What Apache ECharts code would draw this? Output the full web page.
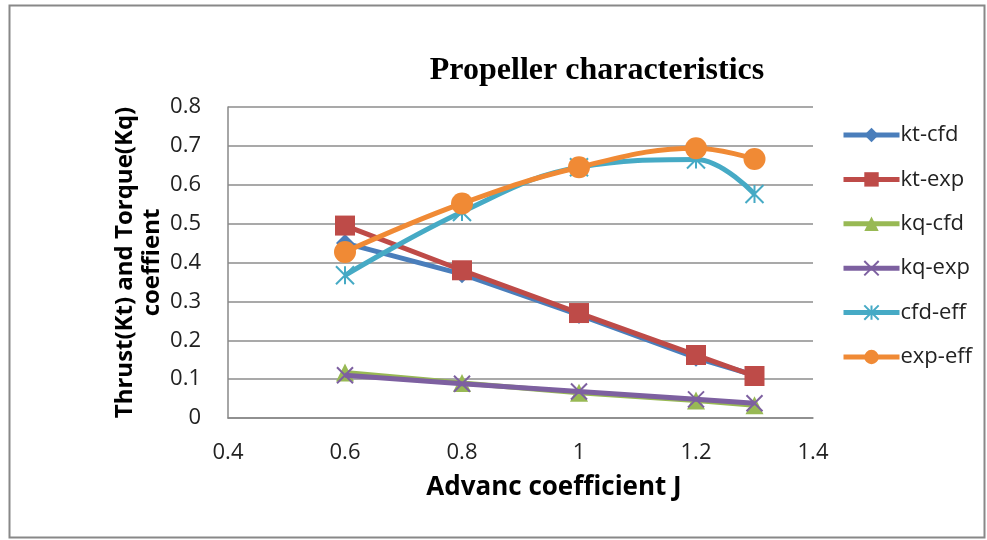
<!DOCTYPE html>
<html><head><meta charset="utf-8">
<script src="https://cdn.jsdelivr.net/npm/echarts@6/dist/echarts.min.js"></script>
<style>html,body{margin:0;padding:0;background:#fff}#c{width:987px;height:540px}</style>
</head><body><div id="c"></div>
<script>
var J = [0.6, 0.8, 1.0, 1.2, 1.3];
var ktCfd = [0.45, 0.37, 0.265, 0.155, 0.11];
var ktExp = [0.495, 0.38, 0.27, 0.162, 0.108];
var kqCfd = [0.117, 0.09, 0.065, 0.045, 0.033];
var kqExp = [0.11, 0.088, 0.068, 0.048, 0.038];
var cfdEff = [0.367, 0.53, 0.645, 0.665, 0.576];
var expEff = [0.427, 0.552, 0.645, 0.694, 0.666];
var names = ['kt-cfd','kt-exp','kq-cfd','kq-exp','cfd-eff','exp-eff'];
var xTicks = [0.4, 0.6, 0.8, 1.0, 1.2, 1.4];
var yTicks = [0, 0.1, 0.2, 0.3, 0.4, 0.5, 0.6, 0.7, 0.8];

var colors = ['#4a7ebb','#be4b48','#98b954','#7d60a0','#46aac5','#f08a35'];
var font = '"Open Sans", "Liberation Sans", sans-serif';
function pairs(v){ return J.map(function(x,i){ return [x, v[i]]; }); }
var X_PATH = 'path://M0,0 L10,10 M10,0 L0,10';
var STAR_PATH = 'path://M5,0 L5,10 M0,0 L10,10 M10,0 L0,10';

function mk(i, data, symbol, size, smooth, stroke){
  var s = {
    name: names[i], type: 'line', data: pairs(data), smooth: smooth,
    symbol: symbol, symbolSize: size, showAllSymbol: true,
    lineStyle: {color: colors[i], width: 5},
    itemStyle: {color: colors[i]},
    z: 2 + i
  };
  if (stroke) { s.itemStyle = {color: 'rgba(0,0,0,0)', borderColor: colors[i], borderWidth: 2}; }
  return s;
}

var chart = echarts.init(document.getElementById('c'));
chart.setOption({
  animation: false,
  color: colors,
  graphic: [{type:'rect', shape:{x:9.5,y:5.5,width:975,height:532}, style:{fill:'none', stroke:'#888', lineWidth:2}, silent:true}],
  title: {text: 'Propeller characteristics', left: 592, top: 50, textAlign: 'center',
    textStyle: {fontFamily: '"Liberation Serif", "Times New Roman", serif', fontWeight: 'bold', fontSize: 32, color: '#000'}},
  legend: {orient: 'vertical', left: 836, top: 119, itemGap: 22.4, itemWidth: 56, itemHeight: 18,
    lineStyle: {width: 5},
    textStyle: {fontFamily: font, fontSize: 22, color: '#222', padding: [0,0,0,-4]}, data: names},
  grid: {left: 228, top: 107, right: 174, bottom: 122},
  xAxis: {type: 'value', min: 0.4, max: 1.4, interval: 0.2,
    name: 'Advanc coefficient J', nameLocation: 'middle', nameGap: 57, nameMoveOverlap: false,
    nameTextStyle: {fontFamily: font, fontWeight: 'bold', fontSize: 26, color: '#000', padding: [0,0,0,67]},
    axisLine: {show: true, lineStyle: {color: '#888', width: 1.5}},
    axisTick: {show: false},
    axisLabel: {margin: 24, fontFamily: font, fontSize: 22, color: '#222',
      formatter: function(v){ var t = xTicks.find(function(k){return Math.abs(k-v)<1e-9;}); return t===undefined?'':String(t); }},
    splitLine: {show: false}},
  yAxis: {type: 'value', min: 0, max: 0.8, interval: 0.1,
    name: 'Thrust(Kt) and Torque(Kq)\ncoeffient', nameLocation: 'middle', nameGap: 62, nameMoveOverlap: false,
    nameTextStyle: {fontFamily: font, fontWeight: 'bold', fontSize: 24, color: '#000', lineHeight: 27},
    axisLine: {show: true, lineStyle: {color: '#888', width: 1.5}},
    axisTick: {show: false},
    axisLabel: {margin: 27, fontFamily: font, fontSize: 22, color: '#222',
      formatter: function(v){ var t = yTicks.find(function(k){return Math.abs(k-v)<1e-9;}); return t===undefined?'':String(t); }},
    splitLine: {show: true, lineStyle: {color: '#8c8c8c', width: 1.5}}},
  series: [
    mk(0, ktCfd, 'diamond', 18, false),
    mk(1, ktExp, 'rect', 20, false),
    mk(2, kqCfd, 'triangle', 18, false),
    mk(3, kqExp, X_PATH, 16, false, true),
    mk(4, cfdEff, STAR_PATH, 18, 0.4, true),
    mk(5, expEff, 'circle', 22, 0.4)
  ]
});
</script></body></html>
